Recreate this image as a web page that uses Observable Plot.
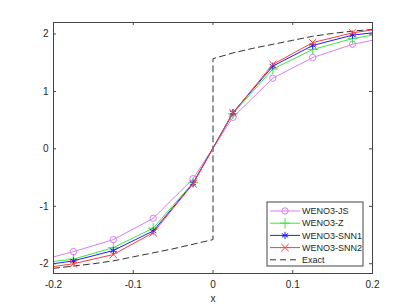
<!DOCTYPE html>
<html>
<head>
<meta charset="utf-8">
<script src="https://cdn.jsdelivr.net/npm/d3@7"></script>
<script src="https://cdn.jsdelivr.net/npm/@observablehq/plot@0.6"></script>
<style>
  html, body { margin: 0; padding: 0; background: #fff; }
</style>
</head>
<body>
<div id="chart"></div>
<script>
// ---- data ----
const cellX = [-0.225, -0.175, -0.125, -0.075, -0.025, 0.025, 0.075, 0.125, 0.175, 0.225];
const wenoJS   = [-1.97, -1.79, -1.58, -1.21, -0.52, 0.55, 1.23, 1.59, 1.82, 1.96];
const wenoZ    = [-2.00, -1.92, -1.72, -1.38, -0.59, 0.61, 1.39, 1.73, 1.92, 2.04];
const wenoSNN1 = [-2.05, -1.95, -1.77, -1.43, -0.60, 0.63, 1.44, 1.80, 1.98, 2.06];
const wenoSNN2 = [-2.10, -2.00, -1.84, -1.46, -0.61, 0.63, 1.47, 1.85, 2.02, 2.12];

const exactX = [-0.2, -0.175, -0.15, -0.125, -0.1, -0.075, -0.05, -0.025, 0, 0, 0.025, 0.05, 0.075, 0.1, 0.125, 0.15, 0.175, 0.2];
const exactY = [-2.08, -2.04, -2.00, -1.95, -1.88, -1.81, -1.74, -1.66, -1.58, 1.57, 1.67, 1.75, 1.82, 1.89, 1.96, 2.01, 2.05, 2.08];

const seriesNames = ["WENO3-JS", "WENO3-Z", "WENO3-SNN1", "WENO3-SNN2"];
const seriesValues = [wenoJS, wenoZ, wenoSNN1, wenoSNN2];
const seriesColors = ["#d87ef6", "#3ee83e", "#1f1fff", "#ff3a3a"];
const seriesSymbols = ["circle", "plus", "asterisk", "times"];
const exactName = "Exact";

const xTicks = [-0.2, -0.1, 0, 0.1, 0.2];
const yTicks = [-2, -1, 0, 1, 2];

// ---- layout ----
const W = 411, H = 308;
const mL = 53, mR = 39, mT = 22, mB = 35;
const plotW = W - mL - mR, plotH = H - mT - mB;
const tickLen = 3;
const axisColor = "#444";

const series = seriesNames.map((name, i) =>
  cellX.map((x, j) => ({ name, x, y: seriesValues[i][j] }))
);
const exact = exactX.map((x, i) => ({ x, y: exactY[i] }));

const marks = [
  Plot.line(exact, { x: "x", y: "y", stroke: "#333", strokeWidth: 1, strokeDasharray: "6,4", clip: true })
];
series.forEach((data, i) => {
  marks.push(Plot.line(data, { x: "x", y: "y", stroke: seriesColors[i], strokeWidth: 1, clip: true }));
  marks.push(Plot.dot(data, { x: "x", y: "y", stroke: seriesColors[i], fill: "none", symbol: seriesSymbols[i], r: i === 0 ? 3.2 : 3.4, strokeWidth: 1, clip: true }));
});
marks.push(
  Plot.frame({ stroke: axisColor, strokeWidth: 1 }),
  Plot.tickX(xTicks, { x: d => d, insetTop: plotH - tickLen, stroke: axisColor }),
  Plot.tickX(xTicks, { x: d => d, insetBottom: plotH - tickLen, stroke: axisColor }),
  Plot.tickY(yTicks, { y: d => d, insetLeft: plotW - tickLen, stroke: axisColor }),
  Plot.tickY(yTicks, { y: d => d, insetRight: plotW - tickLen, stroke: axisColor }),
  Plot.axisX(xTicks, { tickSize: 0, tickPadding: 7, tickFormat: d => String(d), label: "x", labelAnchor: "center", labelArrow: "none", labelOffset: 28 }),
  Plot.axisY(yTicks, { tickSize: 0, tickPadding: 5, tickFormat: d => String(d), label: null })
);

const chart = Plot.plot({
  width: W, height: H,
  marginLeft: mL, marginRight: mR, marginTop: mT, marginBottom: mB,
  style: { fontFamily: "'Liberation Sans', Arial, sans-serif", fontSize: "10px", color: "#262626", background: "white" },
  x: { domain: [-0.2, 0.2] },
  y: { domain: [-2.17, 2.2] },
  marks
});

// ---- legend (inside plot, lower right) ----
const svg = d3.select(chart);
const lg = svg.append("g").attr("transform", "translate(267,202)");
const lgW = 96, lgH = 64, rowH = 12.2, row0 = 9;
lg.append("rect").attr("width", lgW).attr("height", lgH).attr("fill", "white").attr("stroke", axisColor).attr("stroke-width", 1);
const symMap = { circle: d3.symbolCircle, plus: d3.symbolPlus, asterisk: d3.symbolAsterisk, times: d3.symbolTimes };
const entries = seriesNames.map((n, i) => ({ name: n, color: seriesColors[i], symbol: seriesSymbols[i], dash: null, r: i === 0 ? 3.2 : 3.4 }))
  .concat([{ name: exactName, color: "#333", symbol: null, dash: "6,4", r: 0 }]);
entries.forEach((e, i) => {
  const y = row0 + i * rowH;
  const g = lg.append("g").attr("transform", `translate(0,${y})`);
  g.append("line").attr("x1", 3).attr("x2", 33).attr("y1", 0).attr("y2", 0)
    .attr("stroke", e.color).attr("stroke-width", 1).attr("stroke-dasharray", e.dash);
  if (e.symbol) {
    g.append("path").attr("transform", "translate(18,0)")
      .attr("d", d3.symbol(symMap[e.symbol], Math.PI * e.r * e.r)())
      .attr("fill", "none").attr("stroke", e.color).attr("stroke-width", 1);
  }
  g.append("text").attr("x", 35).attr("y", 0).attr("dy", "0.35em")
    .attr("text-anchor", "start")
    .attr("font-size", 9).attr("fill", "#262626").text(e.name);
});

document.getElementById("chart").appendChild(chart);
</script>
</body>
</html>
